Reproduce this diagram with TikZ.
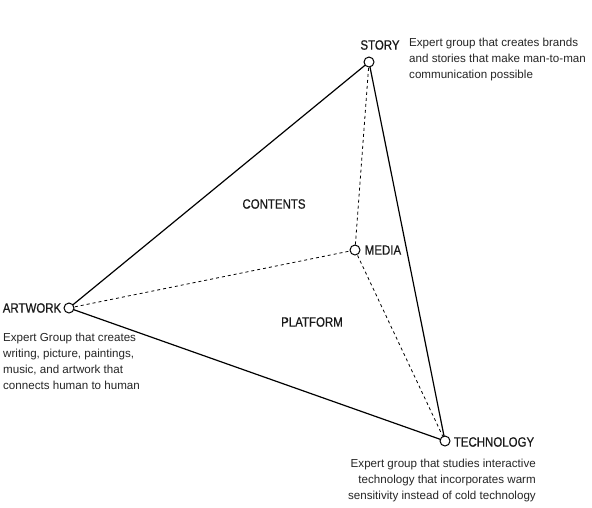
\documentclass[tikz,border=0pt]{standalone}
\usepackage{fontspec}
\setmainfont{Liberation Sans}
\newfontfamily\labelfont[FakeStretch=0.85,FakeBold=0.6]{Liberation Sans}
\begin{document}
\begin{tikzpicture}[x=1pt,y=-1pt,
  vertex/.style={draw,fill=white,circle,inner sep=0pt,minimum size=10pt,line width=1pt},
  corner/.style={font=\labelfont\fontsize{13.5}{15}\selectfont,inner sep=0pt,text=black!90},
  note/.style={font=\fontsize{11.6}{16}\selectfont,inner sep=0pt,text=black!85,align=left}]
\useasboundingbox[fill=white] (0,0) rectangle (592,507);

\coordinate (story) at (369,62);
\coordinate (artwork) at (69,308);
\coordinate (media) at (355,250);
\coordinate (tech) at (445,441);

\draw[line width=1.2pt] (artwork) -- (story) -- (tech) -- cycle;
\draw[dashed,line width=0.8pt] (artwork) -- (media);
\draw[dashed,line width=0.8pt] (story) -- (media);
\draw[dashed,line width=0.8pt] (media) -- (tech);

\node[vertex] (storyv) at (story) {};
\node[vertex] (artworkv) at (artwork) {};
\node[vertex] (mediav) at (media) {};
\node[vertex] (techv) at (tech) {};

\node[corner] (storyl) at (380,45) {STORY};
\node[corner] (artworkl) at (32,308) {ARTWORK};
\node[corner] (medial) at (383,250) {MEDIA};
\node[corner] (techl) at (494,442) {TECHNOLOGY};
\node[corner] (contents) at (274,204) {CONTENTS};
\node[corner] (platform) at (312,322) {PLATFORM};

\node[note,anchor=north west] (storyn) at (409,38) {Expert group that creates brands\\and stories that make man-to-man\\communication possible};
\node[note,anchor=north west] (artworkn) at (3,333) {Expert Group that creates\\writing, picture, paintings,\\music, and artwork that\\connects human to human};
\node[note,anchor=north east,align=right] (techn) at (536,459) {Expert group that studies interactive\\technology that incorporates warm\\sensitivity instead of cold technology};
\end{tikzpicture}
\end{document}
